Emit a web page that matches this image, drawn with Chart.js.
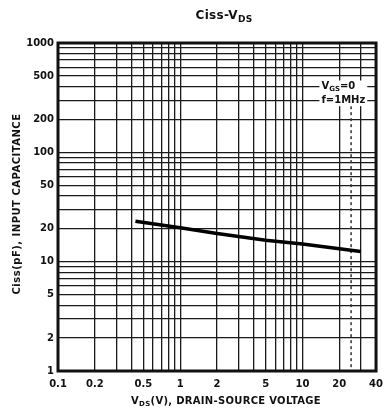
<!DOCTYPE html>
<html>
<head>
<meta charset="utf-8">
<script src="https://cdn.jsdelivr.net/npm/chart.js@4.4.1/dist/chart.umd.min.js"></script>
<style>
  html, body { margin: 0; padding: 0; background: #fff; }
  #wrap { width: 390px; height: 412px; position: relative; }
</style>
</head>
<body>
<div id="wrap"><canvas id="c" width="390" height="412"></canvas></div>
<script>
/* Ciss - VDS (log-log) */

// curve
const vdsValues = [0.43, 1, 2, 5, 10, 30];
const cissValues = [23.4, 20.4, 18.1, 15.7, 14.5, 12.4];

// dashed marker at Vds = 25 V
const markerX = [25, 25];
const markerY = [300, 1];

// grid lines + labels
const xGrid = [0.1,0.2,0.3,0.4,0.5,0.6,0.7,0.8,0.9,1,2,3,4,5,6,7,8,9,10,20,30,40];
const xLabels = [0.1, 0.2, 0.5, 1, 2, 5, 10, 20, 40];
const yGrid = [1,2,3,4,5,6,7,8,9,10,20,30,40,50,60,70,80,90,100,200,300,400,500,600,700,800,900,1000];
const yLabels = [1, 2, 5, 10, 20, 50, 100, 200, 500, 1000];

const INK = "#111";
const FONT = "'DejaVu Sans', sans-serif";

// text with subscripts: parts = [[text, isSub], ...]
function drawParts(ctx, parts, x, y, size, align, spacing) {
  ctx.letterSpacing = (spacing || 0) + "px";
  const widths = parts.map(([t, sub]) => {
    ctx.font = `bold ${sub ? Math.round(size * 0.72) : size}px ${FONT}`;
    return ctx.measureText(t).width;
  });
  const total = widths.reduce((s, w) => s + w, 0);
  let cx = align === "center" ? x - total / 2 : x;
  ctx.textAlign = "left";
  ctx.textBaseline = "middle";
  parts.forEach(([t, sub], i) => {
    ctx.font = `bold ${sub ? Math.round(size * 0.72) : size}px ${FONT}`;
    ctx.fillText(t, cx, sub ? y + size * 0.28 : y);
    cx += widths[i];
  });
  ctx.letterSpacing = "0px";
  return total;
}

const textPlugin = {
  id: "texts",
  afterDraw(chart) {
    const { ctx, chartArea: a, scales } = chart;
    ctx.save();
    // frame
    ctx.strokeStyle = INK;
    ctx.lineWidth = 3;
    ctx.strokeRect(a.left, a.top, a.right - a.left, a.bottom - a.top);

    ctx.fillStyle = INK;
    // title
    drawParts(ctx, [["Ciss-V", false], ["DS", true]], 224, 16, 12, "center", 0.3);
    // x title
    drawParts(ctx, [["V", false], ["DS", true], ["(V), DRAIN-SOURCE VOLTAGE", false]], 226, 401, 10, "center", 0.3);
    // y title
    ctx.save();
    ctx.translate(17, 204);
    ctx.rotate(-Math.PI / 2);
    drawParts(ctx, [["Ciss(pF), INPUT CAPACITANCE", false]], 0, 0, 10, "center", 0.5);
    ctx.restore();

    // conditions box
    const tx = scales.x.getPixelForValue(14.3);
    const y1 = scales.y.getPixelForValue(400);
    const y2 = scales.y.getPixelForValue(300);
    ctx.font = `bold 10px ${FONT}`;
    const w2 = ctx.measureText("f=1MHz").width;
    ctx.fillStyle = "#fff";
    ctx.fillRect(tx - 2, y1 - 6, w2 + 4, y2 - y1 + 12);
    ctx.fillStyle = INK;
    drawParts(ctx, [["V", false], ["GS", true], ["=0", false]], tx, y1, 10, "left");
    drawParts(ctx, [["f=1MHz", false]], tx, y2, 10, "left");
    ctx.restore();
  }
};

const setTicks = list => scale => { scale.ticks = list.map(v => ({ value: v })); };

new Chart(document.getElementById("c"), {
  type: "line",
  data: {
    datasets: [
      {
        data: vdsValues.map((v, i) => ({ x: v, y: cissValues[i] })),
        borderColor: "#000", borderWidth: 3.5, pointRadius: 0, tension: 0
      },
      {
        data: markerX.map((v, i) => ({ x: v, y: markerY[i] })),
        borderColor: "#333", borderWidth: 1.5, borderDash: [3, 3], pointRadius: 0
      }
    ]
  },
  options: {
    responsive: false,
    animation: false,
    events: [],
    layout: { padding: { left: 0, right: 13, top: 43, bottom: 0 } },
    plugins: { legend: { display: false }, tooltip: { enabled: false } },
    scales: {
      x: {
        type: "logarithmic", min: 0.1, max: 40,
        afterBuildTicks: setTicks(xGrid),
        afterFit: s => { s.height = 41; },
        border: { display: false },
        grid: { color: "#1a1a1a", lineWidth: 1.3, drawTicks: false },
        ticks: {
          autoSkip: false, maxRotation: 0, padding: 7, color: INK,
          font: { family: FONT, size: 10, weight: "bold" },
          callback: v => xLabels.includes(v) ? String(v) : ""
        }
      },
      y: {
        type: "logarithmic", min: 1, max: 1000,
        afterBuildTicks: setTicks(yGrid),
        afterFit: s => { s.width = 58; },
        border: { display: false },
        grid: { color: "#1a1a1a", lineWidth: 1.3, drawTicks: false },
        ticks: {
          autoSkip: false, padding: 4, color: INK,
          font: { family: FONT, size: 10, weight: "bold" },
          callback: v => yLabels.includes(v) ? String(v) : ""
        }
      }
    }
  },
  plugins: [textPlugin]
});
</script>
</body>
</html>
